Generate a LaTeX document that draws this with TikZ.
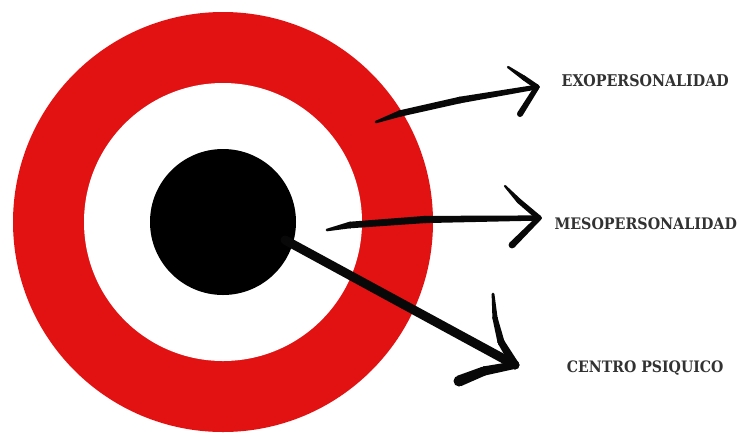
\documentclass[tikz,border=0pt]{standalone}
\usepackage{fontspec}
\usepackage{graphicx}
\newfontfamily\labfont{DejaVu Serif}
\usetikzlibrary{calc}
\definecolor{tred}{RGB}{227,18,18}
\definecolor{ink}{RGB}{8,8,8}
\definecolor{labgray}{RGB}{50,50,50}
\newcommand\brushstroke[4]{%
  \fill[ink] ($(#1)!#3!90:(#2)$) -- ($(#2)!#4!-90:(#1)$) -- ($(#2)!#4!90:(#1)$) -- ($(#1)!#3!-90:(#2)$) -- cycle;
  \fill[ink] (#1) circle[radius=#3];
  \fill[ink] (#2) circle[radius=#4];}
\tikzset{
  disc/.style={circle, inner sep=0pt, draw=none},
  lab/.style={anchor=base west, inner sep=0pt, text=labgray, font=\labfont\bfseries}
}
\begin{document}
\begin{tikzpicture}[x=1pt,y=-1pt]
\useasboundingbox (0,0) rectangle (738,432);
\fill[white] (0,0) rectangle (738,432);
% target
\node[disc, fill=tred, minimum size=420pt] (outer) at (223,222) {};
\node[disc, fill=white, minimum size=278pt] (inner) at (223,222) {};
\node[disc, fill=black, minimum size=146pt] (core) at (223,222) {};
% labels
\node[lab] (exo) at (561.5,86.5) {\resizebox{167pt}{12pt}{EXOPERSONALIDAD}};
\node[lab] (meso) at (554.3,229.3) {\resizebox{182.4pt}{11.8pt}{MESOPERSONALIDAD}};
\node[lab] (centro) at (566.7,372.7) {\resizebox{156.6pt}{11.7pt}{CENTRO PSIQUICO}};
% EXO arrow
\coordinate (e0) at (376,122);
\coordinate (e1) at (400,113.5);
\coordinate (e2) at (460,100);
\coordinate (eT) at (537,87);
\coordinate (eU) at (508,67);
\coordinate (eM) at (524,78);
\coordinate (eL) at (520,114);
\brushstroke{e0}{e1}{1.3pt}{3.2pt}
\brushstroke{e1}{e2}{3.2pt}{3.3pt}
\brushstroke{e2}{eT}{3.3pt}{2.4pt}
\brushstroke{eU}{eM}{1.2pt}{2.4pt}
\brushstroke{eM}{eT}{2.4pt}{2.6pt}
\brushstroke{eL}{eT}{3pt}{2.6pt}
% MESO arrow
\coordinate (m0) at (327,230);
\coordinate (m1) at (350,225);
\coordinate (m2) at (425,219.5);
\coordinate (mT) at (539,218);
\coordinate (mU) at (505,186);
\coordinate (mV) at (519,201);
\coordinate (mL) at (512,245);
\brushstroke{m0}{m1}{1.3pt}{3.3pt}
\brushstroke{m1}{m2}{3.3pt}{3.6pt}
\brushstroke{m2}{mT}{3.6pt}{2.6pt}
\brushstroke{mU}{mV}{1.1pt}{2.5pt}
\brushstroke{mV}{mT}{2.5pt}{2.7pt}
\brushstroke{mL}{mT}{3.4pt}{2.6pt}
% CENTRO arrow
\coordinate (c0) at (285,240);
\coordinate (cT) at (515,365);
\coordinate (cU) at (493,294);
\coordinate (cM) at (495,318);
\coordinate (cP) at (501,342);
\coordinate (cL) at (459,381);
\coordinate (cN) at (484,371);
\brushstroke{c0}{cT}{4.5pt}{4.6pt}
\brushstroke{cU}{cM}{1.4pt}{2.6pt}
\brushstroke{cM}{cP}{2.6pt}{3.5pt}
\brushstroke{cP}{cT}{3.5pt}{4.2pt}
\brushstroke{cL}{cN}{5.5pt}{4.6pt}
\brushstroke{cN}{cT}{4.6pt}{3.8pt}
\end{tikzpicture}
\end{document}
